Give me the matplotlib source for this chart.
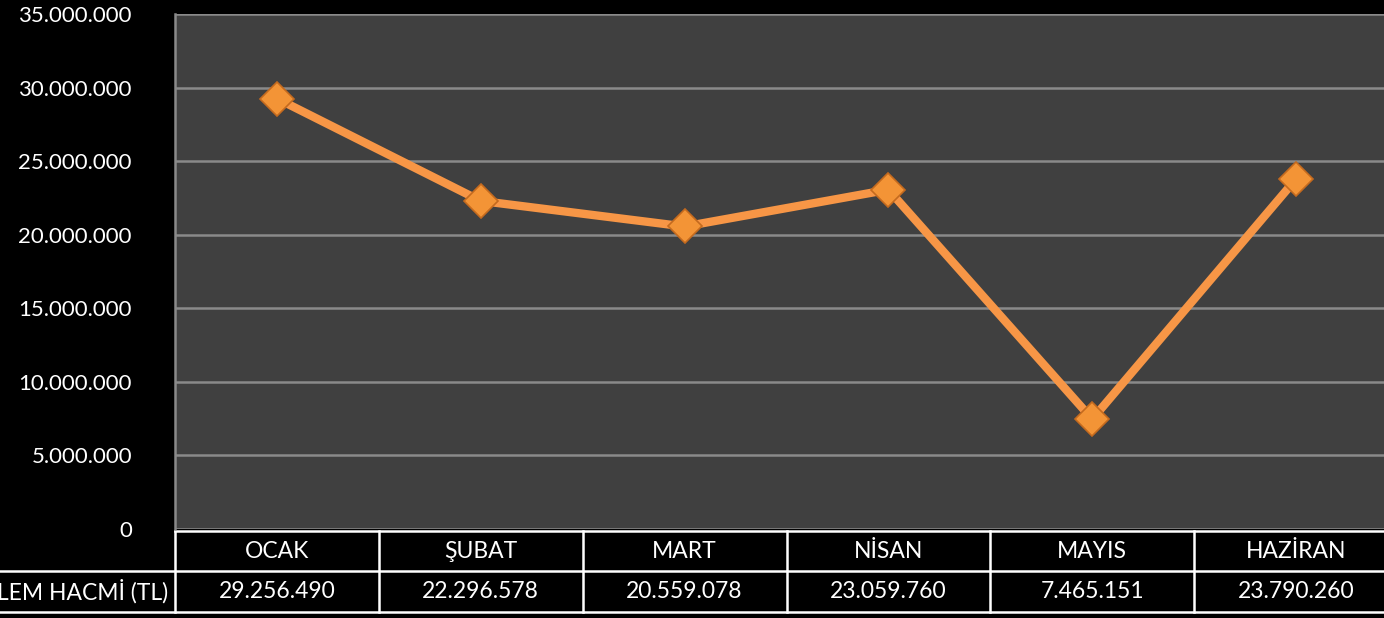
"""İşlem hacmi line chart with data table."""

import matplotlib.pyplot as plt
from matplotlib.ticker import FuncFormatter
from matplotlib.transforms import blended_transform_factory

months = ["OCAK", "ŞUBAT", "MART", "NİSAN", "MAYIS", "HAZİRAN"]
volume = [29256490, 22296578, 20559078, 23059760, 7465151, 23790260]
row_label = "İŞLEM HACMİ (TL)"
y_ticks = [0, 5000000, 10000000, 15000000, 20000000, 25000000, 30000000, 35000000]

W, H = 1384, 618
plt.rcParams['font.family'] = ['Lato', 'DejaVu Sans']


def dotted(v, _=None):
    return "{:,}".format(int(v)).replace(",", ".")


fig = plt.figure(figsize=(W / 100, H / 100), dpi=100, facecolor="black")
# plot area runs past the right edge of the picture, as in the original
left, right, top, bottom = 175, 1398, 14, 529
ax = fig.add_axes([left / W, 1 - bottom / H, (right - left) / W, (bottom - top) / H])
ax.set_facecolor("#404040")

x = list(range(len(months)))
ax.plot(x, volume, color="#F79646", linewidth=6, solid_capstyle="round", zorder=3)
ax.plot(x, volume, linestyle="none", marker="D", markersize=17,
        markerfacecolor="#F39436", markeredgecolor="#C46A1E", markeredgewidth=1.2,
        zorder=4)

ax.set_xlim(-0.5, len(months) - 0.5)
ax.set_ylim(0, 35000000)
ax.set_yticks(y_ticks)
ax.yaxis.set_major_formatter(FuncFormatter(lambda v, _: "0" if v == 0 else dotted(v)))
ax.tick_params(axis="y", colors="white", labelsize=16, length=0, pad=31)
ax.set_xticks([])
ax.grid(axis="y", color="#8a8a8a", linewidth=1.8)
ax.set_axisbelow(True)
for side in ["top", "right", "bottom"]:
    ax.spines[side].set_visible(False)
ax.spines["left"].set_color("#8a8a8a")
ax.spines["left"].set_linewidth(1.8)

# data table under the axis
tr = blended_transform_factory(ax.transData, fig.transFigure)


def fy(py):
    return 1 - py / H


row1_top, row1_bot, row2_bot = 531, 571, 612
lc = "white"
lw = 1.8
n = len(months)
fs = 16.5
ax.plot([-0.5, n - 0.5], [fy(row1_top)] * 2, transform=tr, color=lc, lw=lw, clip_on=False)
fig.add_artist(plt.Line2D([0, 1], [fy(row1_bot)] * 2, color=lc, lw=lw))
fig.add_artist(plt.Line2D([0, 1], [fy(row2_bot)] * 2, color=lc, lw=lw))
for i in range(n + 1):
    ax.plot([i - 0.5, i - 0.5], [fy(row1_top), fy(row2_bot)], transform=tr,
            color=lc, lw=lw, clip_on=False)
for i, (m, v) in enumerate(zip(months, volume)):
    ax.text(i, fy((row1_top + row1_bot) / 2), m, transform=tr, color="white",
            fontsize=fs, ha="center", va="center")
    ax.text(i, fy((row1_bot + row2_bot) / 2), dotted(v), transform=tr, color="white",
            fontsize=fs, ha="center", va="center")
fig.text((left - 7) / W, fy((row1_bot + row2_bot) / 2), row_label, color="white",
         fontsize=fs, ha="right", va="center")

fig.savefig("out.png", dpi=100, facecolor="black")
